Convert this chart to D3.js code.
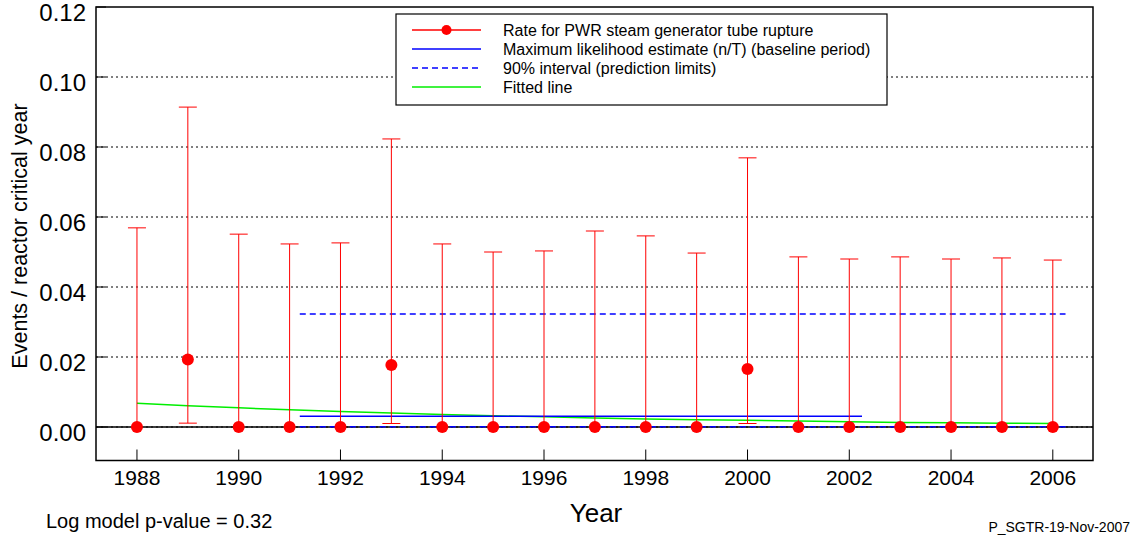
<!DOCTYPE html>
<html lang="en">
<head>
<meta charset="utf-8">
<title>PWR steam generator tube rupture</title>
<script src="https://d3js.org/d3.v7.min.js"></script>
<style>
  body { margin: 0; background: #fff; }
  svg { display: block; font-family: "Liberation Sans", Arial, sans-serif; }
</style>
</head>
<body>
<script>

// yearly rate estimates
var years   = [1988, 1989, 1990, 1991, 1992, 1993, 1994, 1995, 1996, 1997,
               1998, 1999, 2000, 2001, 2002, 2003, 2004, 2005, 2006];
var rate    = [0, 0.0193, 0, 0, 0, 0.0177, 0, 0, 0, 0,
               0, 0, 0.0166, 0, 0, 0, 0, 0, 0];
var upper   = [0.0569, 0.0914, 0.0551, 0.0523, 0.0526, 0.0823, 0.0523, 0.0500, 0.0503, 0.0560,
               0.0546, 0.0497, 0.0769, 0.0486, 0.0480, 0.0486, 0.0480, 0.0483, 0.0477];
var lower   = [0, 0.0011, 0, 0, 0, 0.0010, 0, 0, 0, 0,
               0, 0, 0.0010, 0, 0, 0, 0, 0, 0];
var fitted  = [0.0068, 0.0061, 0.0055, 0.0049, 0.0044, 0.0040, 0.0036, 0.0032, 0.0029, 0.0026,
               0.0023, 0.0021, 0.0019, 0.0017, 0.0015, 0.0013, 0.0012, 0.0011, 0.0010];

// baseline period estimate and prediction limits
var mleSpan   = [1991.2, 2002.25];
var mleValue  = 0.0031;
var bandSpan  = [1991.2, 2006.25];
var bandUpper = 0.0323;
var bandLower = 0.0001;

var yTicks = [0, 0.02, 0.04, 0.06, 0.08, 0.10, 0.12];
var xTicks = [1988, 1990, 1992, 1994, 1996, 1998, 2000, 2002, 2004, 2006];

var legendItems = [
  { label: "Rate for PWR steam generator tube rupture", color: "#ff0000", dash: null, dot: true },
  { label: "Maximum likelihood estimate (n/T) (baseline period)", color: "#0000ff", dash: null, dot: false },
  { label: "90% interval (prediction limits)", color: "#0000ff", dash: "6,4", dot: false },
  { label: "Fitted line", color: "#00ee00", dash: null, dot: false }
];

var W = 1136, H = 537;
var plot = { left: 96, right: 1093, top: 7, bottom: 460.5 };

var x = d3.scaleLinear().domain([1987.195, 2006.79]).range([plot.left, plot.right]);
var y = d3.scaleLinear().domain([-0.00957, 0.12]).range([plot.bottom, plot.top]);

var svg = d3.select("body").append("svg")
    .attr("width", W)
    .attr("height", H);

// dotted grid lines
svg.append("g").selectAll("line")
    .data(yTicks.filter(function(d) { return d < 0.12; }))
    .enter().append("line")
    .attr("x1", plot.left).attr("x2", plot.right)
    .attr("y1", function(d) { return y(d); })
    .attr("y2", function(d) { return y(d); })
    .attr("stroke", "#000")
    .attr("stroke-width", 1)
    .attr("stroke-dasharray", "2,3");

// short solid tick at the left end of each grid line
svg.append("g").selectAll("line")
    .data(yTicks)
    .enter().append("line")
    .attr("x1", plot.left).attr("x2", plot.left + 10)
    .attr("y1", function(d) { return y(d); })
    .attr("y2", function(d) { return y(d); })
    .attr("stroke", "#000");

// zero line
svg.append("line")
    .attr("x1", plot.left).attr("x2", plot.right)
    .attr("y1", y(0)).attr("y2", y(0))
    .attr("stroke", "#000")
    .attr("stroke-width", 1.5);

// y tick labels
svg.append("g").selectAll("text")
    .data(yTicks)
    .enter().append("text")
    .attr("x", 86)
    .attr("y", function(d) { return y(d) + 14; })
    .attr("text-anchor", "end")
    .attr("font-size", 24)
    .text(function(d) { return d3.format(".2f")(d); });

// x axis ticks (inside) + labels
var xt = svg.append("g").selectAll("g")
    .data(xTicks)
    .enter().append("g");
xt.append("line")
    .attr("x1", function(d) { return x(d); })
    .attr("x2", function(d) { return x(d); })
    .attr("y1", plot.bottom)
    .attr("y2", plot.bottom - 11)
    .attr("stroke", "#000");
xt.append("text")
    .attr("x", function(d) { return x(d); })
    .attr("y", 485)
    .attr("text-anchor", "middle")
    .attr("font-size", 21)
    .text(function(d) { return d; });

// fitted line
var line = d3.line()
    .x(function(d, i) { return x(years[i]); })
    .y(function(d) { return y(d); });

svg.append("path")
    .datum(fitted)
    .attr("d", line)
    .attr("fill", "none")
    .attr("stroke", "#00ee00")
    .attr("stroke-width", 1.5);

// MLE and prediction limits
svg.append("line")
    .attr("x1", x(mleSpan[0])).attr("x2", x(mleSpan[1]))
    .attr("y1", y(mleValue)).attr("y2", y(mleValue))
    .attr("stroke", "#0000ff").attr("stroke-width", 1.5);

[bandUpper, bandLower].forEach(function(v) {
  svg.append("line")
      .attr("x1", x(bandSpan[0])).attr("x2", x(bandSpan[1]))
      .attr("y1", y(v)).attr("y2", y(v))
      .attr("stroke", "#0000ff").attr("stroke-width", 1.5)
      .attr("stroke-dasharray", "6,4");
});

// error bars
var capW = 9;
var bars = svg.append("g").selectAll("g")
    .data(years)
    .enter().append("g");

bars.append("line")
    .attr("x1", function(d) { return x(d); })
    .attr("x2", function(d) { return x(d); })
    .attr("y1", function(d, i) { return y(lower[i]); })
    .attr("y2", function(d, i) { return y(upper[i]); })
    .attr("stroke", "#ff0000")
    .attr("stroke-width", 1);

bars.append("line")
    .attr("x1", function(d) { return x(d) - capW; })
    .attr("x2", function(d) { return x(d) + capW; })
    .attr("y1", function(d, i) { return y(upper[i]); })
    .attr("y2", function(d, i) { return y(upper[i]); })
    .attr("stroke", "#ff0000");

bars.filter(function(d, i) { return lower[i] > 0; })
    .append("line")
    .attr("x1", function(d) { return x(d) - capW; })
    .attr("x2", function(d) { return x(d) + capW; })
    .attr("y1", function(d) { return y(lower[years.indexOf(d)]); })
    .attr("y2", function(d) { return y(lower[years.indexOf(d)]); })
    .attr("stroke", "#ff0000");

bars.append("circle")
    .attr("cx", function(d) { return x(d); })
    .attr("cy", function(d, i) { return y(rate[i]); })
    .attr("r", 6)
    .attr("fill", "#ff0000");

// frame
svg.append("rect")
    .attr("x", plot.left).attr("y", plot.top)
    .attr("width", plot.right - plot.left)
    .attr("height", plot.bottom - plot.top)
    .attr("fill", "none")
    .attr("stroke", "#000")
    .attr("stroke-width", 1.5);

// legend
var lg = svg.append("g");
lg.append("rect")
    .attr("x", 396).attr("y", 14)
    .attr("width", 491).attr("height", 91)
    .attr("fill", "#fff")
    .attr("stroke", "#000")
    .attr("stroke-width", 1.2);

var rows = lg.selectAll("g.row")
    .data(legendItems)
    .enter().append("g")
    .attr("class", "row")
    .attr("transform", function(d, i) { return "translate(0," + (30 + i * 19) + ")"; });

rows.append("line")
    .attr("x1", 412).attr("x2", 481)
    .attr("stroke", function(d) { return d.color; })
    .attr("stroke-width", 1.5)
    .attr("stroke-dasharray", function(d) { return d.dash; });

rows.filter(function(d) { return d.dot; })
    .append("circle")
    .attr("cx", 446.5).attr("r", 5)
    .attr("fill", "#ff0000");

rows.append("text")
    .attr("x", 503).attr("y", 6)
    .attr("font-size", 16)
    .text(function(d) { return d.label; });

// axis titles and notes
svg.append("text")
    .attr("x", 596).attr("y", 522)
    .attr("text-anchor", "middle")
    .attr("font-size", 26)
    .text("Year");

svg.append("text")
    .attr("transform", "translate(27,236) rotate(-90)")
    .attr("text-anchor", "middle")
    .attr("font-size", 21.5)
    .text("Events / reactor critical year");

svg.append("text")
    .attr("x", 46).attr("y", 528)
    .attr("font-size", 20)
    .text("Log model p-value = 0.32");

svg.append("text")
    .attr("x", 1130).attr("y", 532)
    .attr("text-anchor", "end")
    .attr("font-size", 14)
    .text("P_SGTR-19-Nov-2007");

</script>
</body>
</html>
